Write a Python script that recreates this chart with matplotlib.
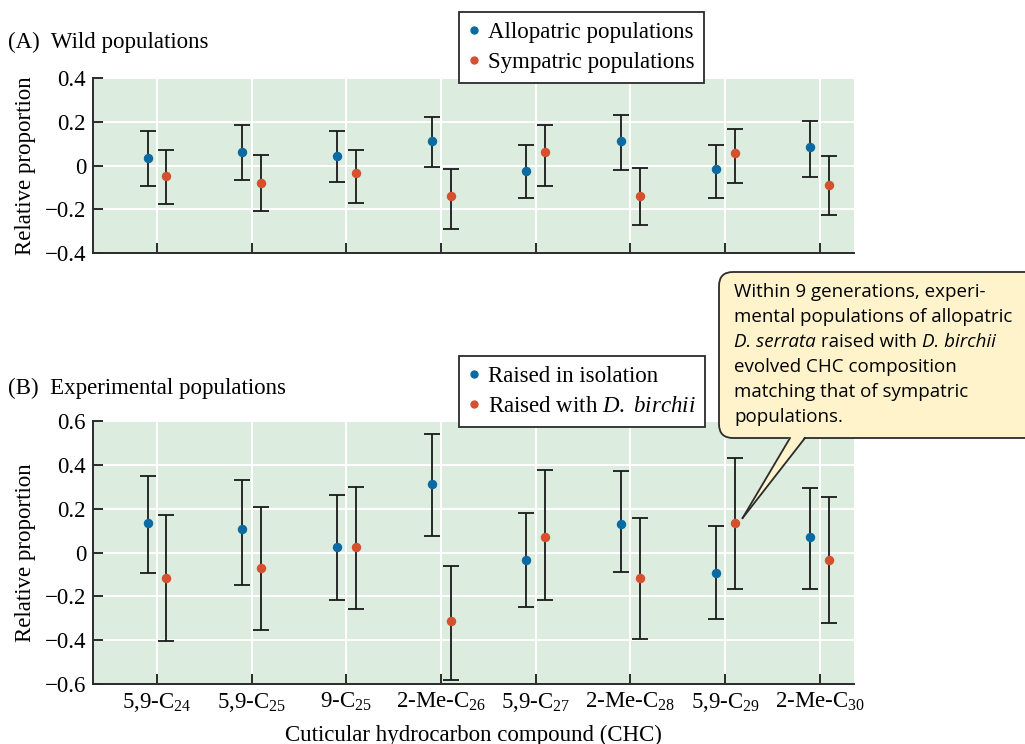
import numpy as np
import matplotlib
matplotlib.use("Agg")
import matplotlib.pyplot as plt
from matplotlib.lines import Line2D
from matplotlib.patches import FancyBboxPatch, Polygon
from matplotlib.text import Annotation
from matplotlib.ticker import FuncFormatter

plt.rcParams["font.family"] = ["Liberation Serif", "DejaVu Serif"]
plt.rcParams["mathtext.fontset"] = "custom"
plt.rcParams["mathtext.rm"] = "Liberation Serif"
plt.rcParams["mathtext.it"] = "Liberation Serif:italic"

compounds = ["5,9-C$_{24}$", "5,9-C$_{25}$", "9-C$_{25}$", "2-Me-C$_{26}$",
             "5,9-C$_{27}$", "2-Me-C$_{28}$", "5,9-C$_{29}$", "2-Me-C$_{30}$"]

# (A) wild populations: mean, lower and upper end of the error bar
wild_allo_mean = [0.033, 0.062, 0.043, 0.114, -0.025, 0.114, -0.014, 0.083]
wild_allo_low = [-0.095, -0.066, -0.077, -0.008, -0.147, -0.019, -0.147, -0.051]
wild_allo_high = [0.156, 0.184, 0.158, 0.220, 0.092, 0.232, 0.092, 0.205]
wild_symp_mean = [-0.046, -0.080, -0.036, -0.138, 0.062, -0.138, 0.056, -0.089]
wild_symp_low = [-0.176, -0.208, -0.170, -0.289, -0.094, -0.271, -0.078, -0.228]
wild_symp_high = [0.071, 0.050, 0.071, -0.014, 0.184, -0.010, 0.168, 0.043]

# (B) experimental populations
exp_iso_mean = [0.133, 0.106, 0.024, 0.315, -0.036, 0.130, -0.095, 0.071]
exp_iso_low = [-0.093, -0.147, -0.216, 0.075, -0.251, -0.089, -0.304, -0.165]
exp_iso_high = [0.352, 0.332, 0.263, 0.543, 0.182, 0.371, 0.123, 0.295]
exp_bir_mean = [-0.116, -0.073, 0.024, -0.315, 0.071, -0.118, 0.135, -0.036]
exp_bir_low = [-0.406, -0.352, -0.256, -0.585, -0.219, -0.396, -0.165, -0.320]
exp_bir_high = [0.170, 0.207, 0.298, -0.061, 0.376, 0.156, 0.434, 0.252]

BLUE = "#0a6aa1"
RED = "#d4502f"
GREEN_BG = "#dcede0"
NOTE_BG = "#fff3cc"
DARK = "#2b2b2b"
FS = 16.5
NOTE_FS = 13.5
SANS = ["Open Sans", "DejaVu Sans"]


def fmt_tick(v, pos):
    if abs(v) < 1e-9:
        return "0"
    return f"{v:.1f}".replace("-", "\u2212")


def style_axes(ax, ylim, step):
    ax.set_facecolor(GREEN_BG)
    ax.set_xlim(-0.676, 7.36)
    ax.set_ylim(*ylim)
    ax.set_yticks(np.arange(ylim[0], ylim[1] + 1e-9, step))
    ax.yaxis.set_major_formatter(FuncFormatter(fmt_tick))
    ax.set_xticks(np.arange(len(compounds)))
    ax.grid(True, color="white", linewidth=1.4)
    ax.set_axisbelow(True)
    for s in ["top", "right"]:
        ax.spines[s].set_visible(False)
    for s in ["left", "bottom"]:
        ax.spines[s].set_color(DARK)
        ax.spines[s].set_linewidth(1.4)
    ax.tick_params(direction="in", length=7, width=1.4, color=DARK,
                   labelsize=FS, pad=5)
    ax.set_ylabel("Relative proportion", fontsize=FS, labelpad=6)


def draw_pairs(ax, m1, lo1, hi1, m2, lo2, hi2):
    x = np.arange(len(compounds))
    for off, m, lo, hi, c in [(-0.1, m1, lo1, hi1, BLUE), (0.1, m2, lo2, hi2, RED)]:
        m = np.array(m)
        err = [m - np.array(lo), np.array(hi) - m]
        ax.errorbar(x + off, m, yerr=err, fmt="o", color=c, ecolor="#1a1a1a",
                    elinewidth=1.3, capsize=5.5, capthick=1.3, markersize=5.8,
                    zorder=3)


fig = plt.figure(figsize=(10.25, 7.44), dpi=100)
ax1 = fig.add_axes([0.0907, 0.6599, 0.7424, 0.2352])
ax2 = fig.add_axes([0.0907, 0.0810, 0.7424, 0.3527])

style_axes(ax1, (-0.4, 0.4), 0.2)
style_axes(ax2, (-0.6, 0.6), 0.2)
ax1.set_xticklabels([])
ax2.set_xticklabels(compounds)
ax2.set_xlabel("Cuticular hydrocarbon compound (CHC)", fontsize=FS, labelpad=8)

draw_pairs(ax1, wild_allo_mean, wild_allo_low, wild_allo_high,
           wild_symp_mean, wild_symp_low, wild_symp_high)
draw_pairs(ax2, exp_iso_mean, exp_iso_low, exp_iso_high,
           exp_bir_mean, exp_bir_low, exp_bir_high)

fig.text(8 / 1025, 1 - 42 / 744, "(A)  Wild populations", fontsize=FS, va="center")
fig.text(8 / 1025, 1 - 388 / 744, "(B)  Experimental populations", fontsize=FS,
         va="center")


def add_legend(labels, top_px):
    handles = [Line2D([], [], marker="o", ls="", color=BLUE, markersize=5),
               Line2D([], [], marker="o", ls="", color=RED, markersize=5)]
    leg = fig.legend(handles, labels, loc="upper left",
                     bbox_to_anchor=(459 / 1025, 1 - top_px / 744),
                     bbox_transform=fig.transFigure, borderaxespad=0,
                     fontsize=FS, fancybox=False, framealpha=1,
                     edgecolor=DARK, handlelength=0.5, handletextpad=0.35,
                     labelspacing=0.4, borderpad=0.42)
    leg.get_frame().set_linewidth(1.3)


add_legend(["Allopatric populations", "Sympatric populations"], 12)
add_legend(["Raised in isolation", r"Raised with $\mathit{D.\ birchii}$"], 356)

# callout box (inches so the rounding stays round)
box = FancyBboxPatch((7.19, 3.06), 3.3, 1.66, boxstyle="round,pad=0,rounding_size=0.14",
                     transform=fig.dpi_scale_trans, facecolor=NOTE_BG,
                     edgecolor=DARK, linewidth=1.3, zorder=10)
fig.add_artist(box)

fig.canvas.draw()
tip = ax2.transData.transform((6 + 0.1, exp_bir_mean[6])) / fig.dpi
tip = tip + np.array([0.08, 0.05])
base_l = np.array([7.90, 3.06])
base_r = np.array([8.05, 3.06])
wedge = Polygon([base_l + [0, 0.02], tip, base_r + [0, 0.02]], closed=True,
                transform=fig.dpi_scale_trans, facecolor=NOTE_BG,
                edgecolor="none", zorder=11)
fig.add_artist(wedge)
for b in (base_l, base_r):
    fig.add_artist(Line2D([b[0], tip[0]], [b[1], tip[1]], color=DARK, lw=1.3,
                          transform=fig.dpi_scale_trans, zorder=12))

note_font = dict(family=SANS, fontsize=NOTE_FS, zorder=13)
lines = ["Within 9 generations, experi-", "mental populations of allopatric",
         None, "evolved CHC composition", "matching that of sympatric",
         "populations."]
x0 = 734 / 1025
for i, s in enumerate(lines):
    y = 1 - (297 + 25 * i) / 744
    if s is not None:
        fig.text(x0, y, s, va="baseline", **note_font)
    else:
        t1 = fig.text(x0, y, "D. serrata", style="italic", va="baseline", **note_font)
        t2 = fig.add_artist(Annotation(" raised with ", xy=(1, 0), xycoords=t1,
                                       va="bottom", **note_font))
        fig.add_artist(Annotation("D. birchii", xy=(1, 0), xycoords=t2,
                                  va="bottom", style="italic", **note_font))

fig.savefig("out.png", dpi=100)
